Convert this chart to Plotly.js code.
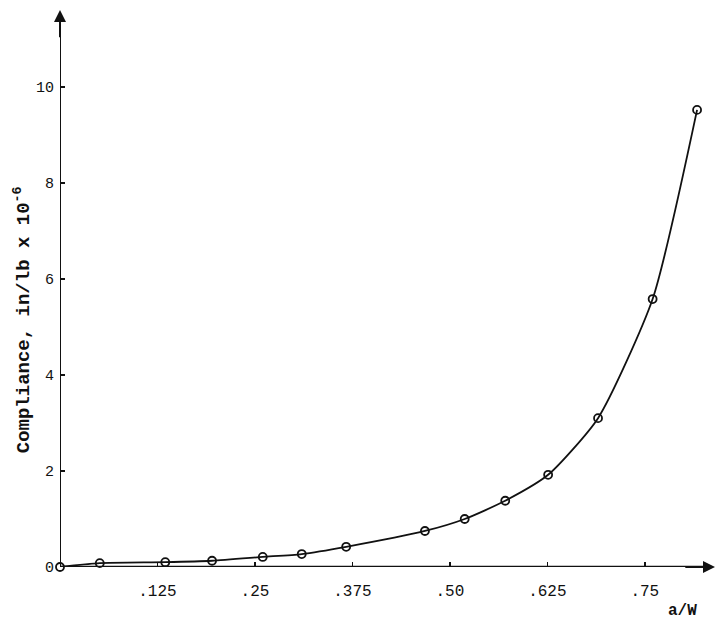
<!DOCTYPE html>
<html>
<head>
<meta charset="utf-8">
<script src="https://cdn.plot.ly/plotly-3.0.1.min.js"></script>
<style>html,body{margin:0;padding:0;background:#fff;}</style>
</head>
<body>
<div id="chart" style="width:718px;height:627px;"></div>
<script>
// Crack length ratio a/W and measured compliance (in/lb x 10^-6)
const aW = [0, 0.051, 0.135, 0.195, 0.26, 0.31, 0.367, 0.468, 0.519, 0.571, 0.626, 0.69, 0.76, 0.817];
const compliance = [0, 0.08, 0.10, 0.13, 0.21, 0.27, 0.42, 0.75, 1.0, 1.38, 1.92, 3.1, 5.58, 9.52];
const xTickVals = [0.125, 0.25, 0.375, 0.5, 0.625, 0.75];
const xTickText = ['.125', '.25', '.375', '.50', '.625', '.75'];
const yTickVals = [0, 2, 4, 6, 8, 10];
const yTickText = ['0', '2', '4', '6', '8', '10'];
const yTitle = 'Compliance, in/lb x 10<sup>-6</sup>';
const xTitle = 'a/W';

const mono = 'Liberation Mono, Courier New, monospace';

const traces = [{
  x: aW, y: compliance,
  type: 'scatter', mode: 'lines+markers',
  line: {color: '#111', width: 1.8, shape: 'spline', smoothing: 0.6},
  marker: {symbol: 'circle-open', size: 8, color: '#111', line: {width: 1.8, color: '#111'}},
  cliponaxis: false,
  showlegend: false
}];

const layout = {
  width: 718, height: 627,
  margin: {l: 60, r: 3, t: 10, b: 60},
  paper_bgcolor: '#fff', plot_bgcolor: '#fff',
  font: {family: mono, color: '#111', size: 12},
  xaxis: {
    range: [0, 0.84], showgrid: false, zeroline: false,
    showline: false,
    tickvals: xTickVals, ticktext: xTickText,
    ticks: 'inside', ticklen: 5, tickwidth: 1.5, tickcolor: '#111',
    ticklabelstandoff: 12,
    tickfont: {family: mono, size: 16, color: '#111'}
  },
  yaxis: {
    range: [0, 11.6], showgrid: false, zeroline: false,
    showline: false,
    tickvals: yTickVals, ticktext: yTickText,
    ticks: 'inside', ticklen: 5, tickwidth: 1.5, tickcolor: '#111',
    ticklabelstandoff: 5,
    tickfont: {family: mono, size: 15, color: '#111'}
  },
  shapes: [
    {type: 'line', xref: 'x', yref: 'y', x0: 0, y0: 0, x1: 0, y1: 11.4, line: {color: '#111', width: 2}},
    {type: 'line', xref: 'x', yref: 'y', x0: 0, y0: 0, x1: 0.83, y1: 0, line: {color: '#111', width: 2.5}}
  ],
  annotations: [
    {xref: 'x', yref: 'y', x: 0, y: 11.6, ax: 0, ay: 11.0, axref: 'x', ayref: 'y',
     showarrow: true, arrowhead: 2, arrowsize: 1.2, arrowwidth: 2, arrowcolor: '#111', text: ''},
    {xref: 'x', yref: 'y', x: 0.84, y: 0, ax: 0.80, ay: 0, axref: 'x', ayref: 'y',
     showarrow: true, arrowhead: 2, arrowsize: 1.2, arrowwidth: 2, arrowcolor: '#111', text: ''},
    {xref: 'paper', yref: 'paper', x: -0.058, y: 0.443, xanchor: 'center', yanchor: 'middle',
     textangle: -90, showarrow: false, text: yTitle,
     font: {family: mono, size: 19, color: '#111', weight: 'bold'}},
    {xref: 'paper', yref: 'paper', x: 0.975, y: -0.06, xanchor: 'right', yanchor: 'top',
     showarrow: false, text: xTitle, font: {family: mono, size: 16, color: '#111', weight: 'bold'}}
  ]
};

Plotly.newPlot('chart', traces, layout, {displayModeBar: false, staticPlot: true});
</script>
</body>
</html>
